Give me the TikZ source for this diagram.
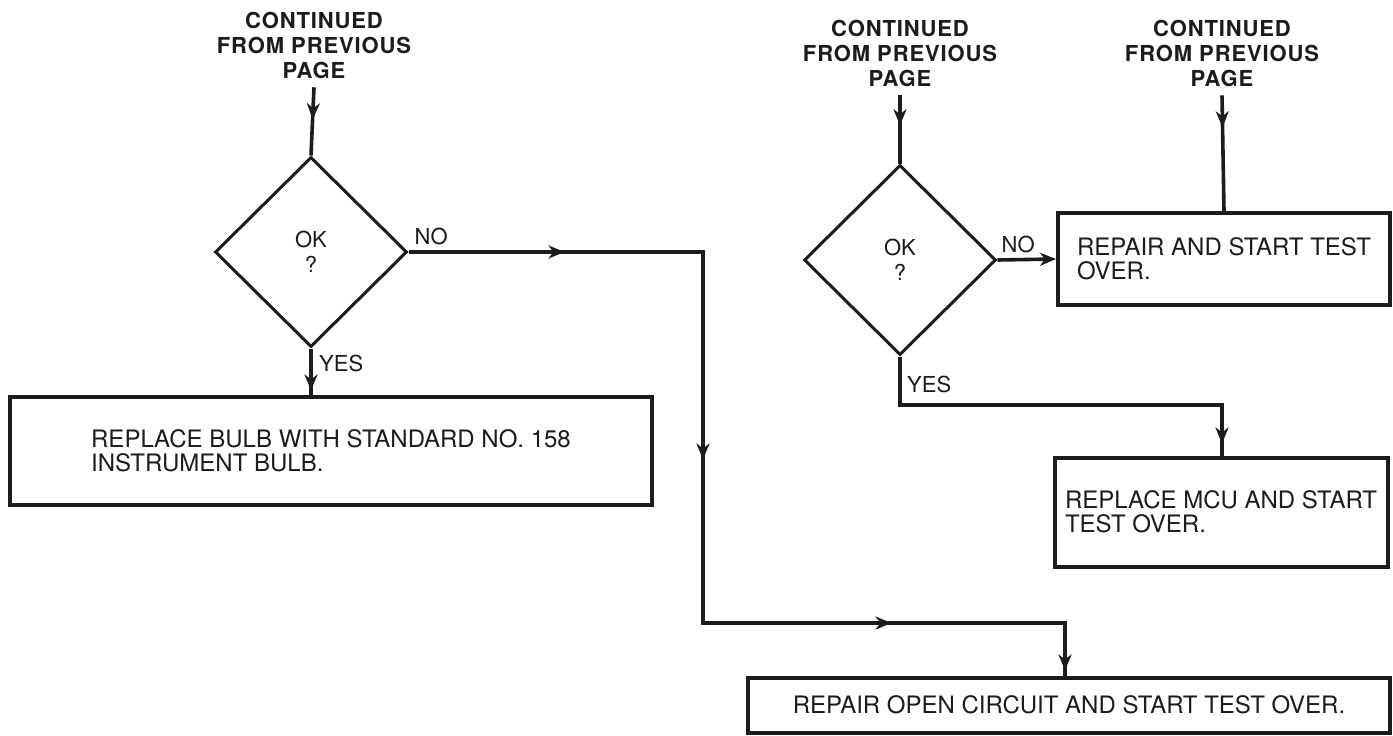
\documentclass[tikz,border=0pt]{standalone}
\usepackage{fontspec}
\setmainfont{TeX Gyre Heros}
\newfontfamily\headfont[LetterSpace=4]{TeX Gyre Heros}
\usepackage{tikz}
\usetikzlibrary{arrows.meta,positioning,calc,shapes.geometric,decorations.markings}
\definecolor{ink}{HTML}{1C1C1C}
\tikzset{
    every picture/.style={line join=miter},
    flowtip/.tip={Stealth[length=16pt,width=13pt,inset=5pt]},
    stepbox/.style={draw=ink,rectangle,line width=4pt,inner sep=0pt,
      align=left,text=ink,font=\fontsize{24}{24}\selectfont},
    decision/.style={draw=ink,diamond,line width=3pt,inner sep=0pt,
      minimum width=192pt,minimum height=190pt,align=center,text=ink,
      font=\fontsize{22}{25}\selectfont},
    contnote/.style={align=center,text=ink,inner sep=0pt,outer sep=9pt,
      font=\headfont\fontsize{22}{25}\selectfont\bfseries},
    branchlabel/.style={text=ink,inner sep=0pt,anchor=base west,
      font=\fontsize{22}{24}\selectfont},
    flowline/.style={draw=ink,line width=3.6pt},
    tipat/.style={postaction={decorate,decoration={markings,
      mark=at position #1 with {\arrow{flowtip}}}}}
}
\begin{document}
\begin{tikzpicture}[x=1pt,y=-1pt]
    \useasboundingbox[fill=white] (0,0) rectangle (1393,736);
    % left column
    \node[contnote] (hdA) at (314,45) {CONTINUED\\FROM PREVIOUS\\PAGE};
    \node[decision] (okA) at (311,252) {OK\\?};
    \node[stepbox,minimum width=642pt,minimum height=108pt] (bulb) at (331,451)
      {REPLACE BULB WITH STANDARD NO. 158\\INSTRUMENT BULB.};
    \draw[flowline,tipat=32pt] (hdA.south) -- (okA.north);
    \draw[flowline,tipat=42pt] (okA.south) -- (okA.south |- bulb.north);
    \node[branchlabel] (noA) at ([xshift=6pt,yshift=8pt]okA.east) {NO};
    \node[branchlabel] (yesA) at ([xshift=8pt,yshift=-23pt]okA.south) {YES};
    % right column
    \node[contnote] (hdB) at (900,53) {CONTINUED\\FROM PREVIOUS\\PAGE};
    \node[contnote] (hdC) at (1222,53) {CONTINUED\\FROM PREVIOUS\\PAGE};
    \node[decision] (okB) at (900,260) {OK\\?};
    \node[stepbox,minimum width=332pt,minimum height=92pt] (rprA) at (1224,259)
      {REPAIR AND START TEST\\OVER.};
    \node[stepbox,minimum width=333pt,minimum height=109pt] (mcu) at (1221,512)
      {REPLACE MCU AND START\\TEST OVER.};
    \node[stepbox,minimum width=642pt,minimum height=55pt] (rpoc) at (1069,705)
      {REPAIR OPEN CIRCUIT AND START TEST OVER.};
    \draw[flowline,tipat=30pt] (hdB.south) -- (okB.north);
    \draw[flowline,tipat=32pt] (hdC.south) -- (rprA.north);
    \draw[flowline,-{flowtip}] (okB.east) -- (rprA.west);
    \node[branchlabel] (noB) at ([xshift=4pt,yshift=8pt]okB.east) {NO};
    \node[branchlabel] (yesB) at ([xshift=7pt,yshift=-36pt]okB.south) {YES};
    % yes branch to mcu
    \coordinate (jD) at (900,405);
    \coordinate (jE) at (1222,405);
    \draw[flowline,tipat=409pt] (okB.south) -- (jD) -- (jE) -- (jE |- mcu.north);
    % no branch down to open circuit
    \coordinate (jA) at (703,252);
    \coordinate (jB) at (703,623);
    \coordinate (jC) at (1065,623);
    \draw[flowline,tipat=156pt,tipat=502pt,tipat=854pt,tipat=1075pt]
      (okA.east) -- (jA) -- (jB) -- (jC) -- (jC |- rpoc.north);
\end{tikzpicture}
\end{document}
